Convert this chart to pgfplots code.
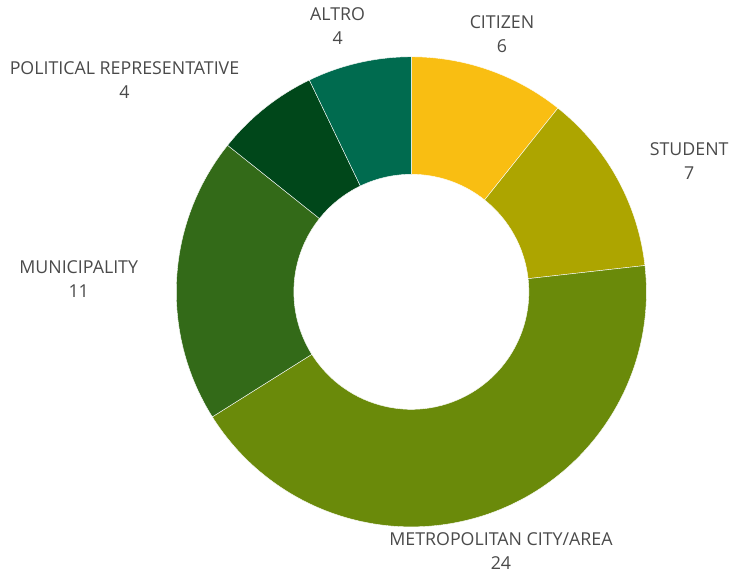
\documentclass[border=0pt]{standalone}
\usepackage{pgfplots}
\usepackage{pgfplotstable}
\pgfplotsset{compat=1.18}
\usepackage{fontspec}
\setmainfont{Open Sans}

\definecolor{cCitizen}{HTML}{F9BE12}
\definecolor{cStudent}{HTML}{ADA500}
\definecolor{cMetro}{HTML}{6A8A0A}
\definecolor{cMuni}{HTML}{336A18}
\definecolor{cPolit}{HTML}{00471A}
\definecolor{cAltro}{HTML}{006B4F}
\definecolor{txt}{HTML}{4A4A4A}

% slices clockwise from 12 o'clock; lx, ly = label centre in pixel units
\pgfplotstableread[col sep=comma]{
label,value,color,lx,ly
CITIZEN,6,cCitizen,504,544
STUDENT,7,cStudent,692,416
METROPOLITAN CITY/AREA,24,cMetro,503,25
MUNICIPALITY,11,cMuni,79,298
POLITICAL REPRESENTATIVE,4,cPolit,125,498
ALTRO,4,cAltro,339,552
}\slices

\begin{document}
\begin{tikzpicture}
\begin{axis}[
    x=0.75pt, y=0.75pt,
    xmin=0, xmax=733, ymin=0, ymax=578,
    hide axis,
    clip=false,
]
\path (axis cs:0,0) rectangle (axis cs:733,578);

\pgfplotstablegetrowsof{\slices}
\pgfmathtruncatemacro\lastrow{\pgfplotsretval-1}
\def\total{0}
\pgfplotsforeachungrouped \i in {0,...,\lastrow}{
  \pgfplotstablegetelem{\i}{value}\of\slices
  \pgfmathsetmacro\total{\total+\pgfplotsretval}
}
\pgfmathsetmacro\degper{360/\total}
\def\cum{0}
\pgfplotsforeachungrouped \i in {0,...,\lastrow}{
  \pgfplotstablegetelem{\i}{value}\of\slices \let\val\pgfplotsretval
  \pgfplotstablegetelem{\i}{color}\of\slices \let\col\pgfplotsretval
  \pgfplotstablegetelem{\i}{label}\of\slices \let\lab\pgfplotsretval
  \pgfplotstablegetelem{\i}{lx}\of\slices \let\lx\pgfplotsretval
  \pgfplotstablegetelem{\i}{ly}\of\slices \let\ly\pgfplotsretval
  \pgfmathsetmacro\angA{90-\degper*\cum}
  \pgfmathsetmacro\angB{90-\degper*(\cum+\val)}
  \pgfmathsetmacro\angC{\angB+180}
  \pgfmathsetmacro\cum{\cum+\val}
  \edef\tmp{%
    \noexpand\fill[\col, draw=white, line width=0.3pt]
      (axis cs:413,285) ++(\angA:177pt) arc[start angle=\angA, end angle=\angB, radius=177pt]
      -- ++(\angC:88.5pt) arc[start angle=\angB, end angle=\angA, radius=88.5pt] -- cycle;
    \noexpand\node[text=txt, align=center, font=\noexpand\fontsize{13.4}{18}\noexpand\selectfont]
      at (axis cs:\lx,\ly) {\lab\noexpand\\\val};
  }
  \tmp
}
\end{axis}
\end{tikzpicture}
\end{document}
